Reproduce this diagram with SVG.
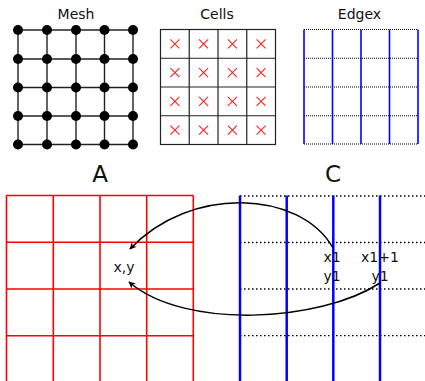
<svg xmlns="http://www.w3.org/2000/svg" width="425" height="381" viewBox="0 0 425 381">
<style>
text{font-family:"DejaVu Sans","Liberation Sans",sans-serif;fill:#111}
.t{font-size:14px;text-anchor:middle}
.big{font-size:23px;text-anchor:middle}
.lbl{font-size:14px;text-anchor:middle}
.mesh line{stroke:#222;stroke-width:1.4}
.cells line,.cells rect{stroke:#222;stroke-width:1.2;fill:none}
.x{stroke:#f22;stroke-width:1.1}
.dot1{stroke:#000;stroke-width:1;stroke-dasharray:1 1}
.dot2{stroke:#000;stroke-width:1.3;stroke-dasharray:1.5 2.5}
.blue1{stroke:#0000ff;stroke-width:1.6}
.blue2{stroke:#0000ff;stroke-width:2.5}
.red line{stroke:#ff0000;stroke-width:1.6}
.arc{fill:none;stroke:#000;stroke-width:1.5;marker-end:url(#ah)}
</style>
<defs>
<marker id="ah" viewBox="0 0 10 10" refX="9" refY="5" markerWidth="7" markerHeight="7" orient="auto" markerUnits="userSpaceOnUse">
<path d="M0,0 L10,5 L0,10 L3,5 Z" fill="#000"/>
</marker>
</defs>
<g id="mesh" class="mesh">
<text class="t" x="76" y="19">Mesh</text>
<line x1="18" y1="30" x2="133" y2="30"/><line x1="18" y1="59" x2="133" y2="59"/><line x1="18" y1="87.5" x2="133" y2="87.5"/><line x1="18" y1="116" x2="133" y2="116"/><line x1="18" y1="144.5" x2="133" y2="144.5"/>
<line x1="18" y1="30" x2="18" y2="144.5"/><line x1="47" y1="30" x2="47" y2="144.5"/><line x1="76" y1="30" x2="76" y2="144.5"/><line x1="104.5" y1="30" x2="104.5" y2="144.5"/><line x1="133" y1="30" x2="133" y2="144.5"/>
<g fill="#000">
<circle cx="18" cy="30" r="5"/><circle cx="47" cy="30" r="5"/><circle cx="76" cy="30" r="5"/><circle cx="104.5" cy="30" r="5"/><circle cx="133" cy="30" r="5"/>
<circle cx="18" cy="59" r="5"/><circle cx="47" cy="59" r="5"/><circle cx="76" cy="59" r="5"/><circle cx="104.5" cy="59" r="5"/><circle cx="133" cy="59" r="5"/>
<circle cx="18" cy="87.5" r="5"/><circle cx="47" cy="87.5" r="5"/><circle cx="76" cy="87.5" r="5"/><circle cx="104.5" cy="87.5" r="5"/><circle cx="133" cy="87.5" r="5"/>
<circle cx="18" cy="116" r="5"/><circle cx="47" cy="116" r="5"/><circle cx="76" cy="116" r="5"/><circle cx="104.5" cy="116" r="5"/><circle cx="133" cy="116" r="5"/>
<circle cx="18" cy="144.5" r="5"/><circle cx="47" cy="144.5" r="5"/><circle cx="76" cy="144.5" r="5"/><circle cx="104.5" cy="144.5" r="5"/><circle cx="133" cy="144.5" r="5"/>
</g>
</g>
<g id="cells" class="cells">
<text class="t" x="217" y="19">Cells</text>
<rect x="160.5" y="29.5" width="115" height="115"/>
<line x1="189.25" y1="29.5" x2="189.25" y2="144.5"/><line x1="218" y1="29.5" x2="218" y2="144.5"/><line x1="246.75" y1="29.5" x2="246.75" y2="144.5"/>
<line x1="160.5" y1="58.25" x2="275.5" y2="58.25"/><line x1="160.5" y1="87" x2="275.5" y2="87"/><line x1="160.5" y1="115.75" x2="275.5" y2="115.75"/>
<path class="x" d="M170.4,39.4l9,9m0,-9l-9,9 M199.1,39.4l9,9m0,-9l-9,9 M227.9,39.4l9,9m0,-9l-9,9 M256.6,39.4l9,9m0,-9l-9,9
M170.4,68.1l9,9m0,-9l-9,9 M199.1,68.1l9,9m0,-9l-9,9 M227.9,68.1l9,9m0,-9l-9,9 M256.6,68.1l9,9m0,-9l-9,9
M170.4,96.9l9,9m0,-9l-9,9 M199.1,96.9l9,9m0,-9l-9,9 M227.9,96.9l9,9m0,-9l-9,9 M256.6,96.9l9,9m0,-9l-9,9
M170.4,125.6l9,9m0,-9l-9,9 M199.1,125.6l9,9m0,-9l-9,9 M227.9,125.6l9,9m0,-9l-9,9 M256.6,125.6l9,9m0,-9l-9,9"/>
</g>
<g id="edgex">
<text class="t" x="359.5" y="19">Edgex</text>
<line class="dot1" x1="304" y1="29.5" x2="418" y2="29.5"/><line class="dot1" x1="304" y1="58.25" x2="418" y2="58.25"/><line class="dot1" x1="304" y1="87" x2="418" y2="87"/><line class="dot1" x1="304" y1="115.75" x2="418" y2="115.75"/><line class="dot1" x1="304" y1="144" x2="418" y2="144"/>
<line class="blue1" x1="304" y1="29.5" x2="304" y2="144"/><line class="blue1" x1="332.5" y1="29.5" x2="332.5" y2="144"/><line class="blue1" x1="361" y1="29.5" x2="361" y2="144"/><line class="blue1" x1="389.5" y1="29.5" x2="389.5" y2="144"/><line class="blue1" x1="418" y1="29.5" x2="418" y2="144"/>
</g>
<g id="gridA" class="red">
<text class="big" x="100" y="182">A</text>
<line x1="6" y1="195.5" x2="193.5" y2="195.5"/><line x1="6" y1="242.3" x2="193.5" y2="242.3"/><line x1="6" y1="289" x2="193.5" y2="289"/><line x1="6" y1="335.7" x2="193.5" y2="335.7"/>
<line x1="6.5" y1="195.5" x2="6.5" y2="381"/><line x1="53.3" y1="195.5" x2="53.3" y2="381"/><line x1="100" y1="195.5" x2="100" y2="381"/><line x1="146.7" y1="195.5" x2="146.7" y2="381"/><line x1="193.3" y1="195.5" x2="193.3" y2="381"/>
<text class="lbl" x="124" y="272">x,y</text>
</g>
<g id="gridC">
<text class="big" x="333" y="182">C</text>
<line class="dot2" x1="240" y1="196" x2="425" y2="196"/><line class="dot2" x1="240" y1="242.5" x2="425" y2="242.5"/><line class="dot2" x1="240" y1="289" x2="425" y2="289"/><line class="dot2" x1="240" y1="335.7" x2="425" y2="335.7"/>
<line class="blue2" x1="240" y1="195.5" x2="240" y2="381"/><line class="blue2" x1="286.7" y1="195.5" x2="286.7" y2="381"/><line class="blue2" x1="333.3" y1="195.5" x2="333.3" y2="381"/><line class="blue2" x1="380" y1="195.5" x2="380" y2="381"/>
<text class="lbl" x="332" y="261.5">x1</text>
<text class="lbl" x="332" y="281">y1</text>
<text class="lbl" x="380" y="261.5">x1+1</text>
<text class="lbl" x="380" y="281">y1</text>
</g>
<g id="connectors">
<path class="arc" d="M333,248 C300,190 190,185 130,249"/>
<path class="arc" d="M380,283 C320,322 185,330 129,282"/>
</g>
</svg>
